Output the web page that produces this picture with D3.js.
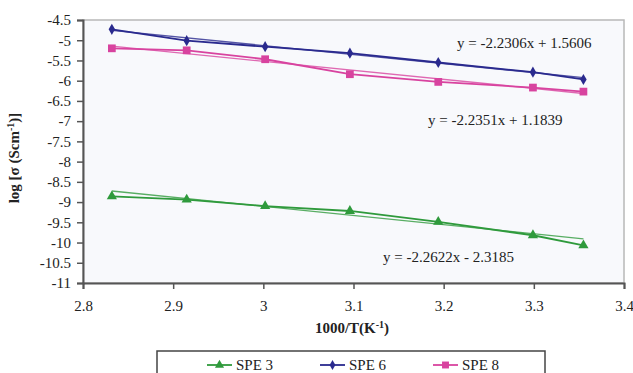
<!DOCTYPE html>
<html>
<head>
<meta charset="utf-8">
<script src="https://cdn.jsdelivr.net/npm/d3@7"></script>
<style>
  body { margin: 0; background: #fff; }
  text { font-family: "Liberation Serif", "Times New Roman", serif; fill: #222; }
</style>
</head>
<body>
<div id="container"></div>
<script>
// 1000/T values (K^-1)
const invTemp = [2.832, 2.915, 3.002, 3.096, 3.194, 3.299, 3.355];

// log conductivity per sample
const spe3 = [-8.86, -8.94, -9.10, -9.22, -9.49, -9.82, -10.07];
const spe6 = [-4.73, -5.01, -5.16, -5.32, -5.55, -5.79, -5.97];
const spe8 = [-5.20, -5.25, -5.47, -5.84, -6.03, -6.17, -6.27];

// linear fit coefficients [slope, intercept]
const fit3 = [-2.2622, -2.3185];
const fit6 = [-2.2306, 1.5606];
const fit8 = [-2.2351, 1.1839];

const seriesNames = ["SPE 3", "SPE 6", "SPE 8"];
const eqLabels = ["y = -2.2622x - 2.3185", "y = -2.2306x + 1.5606", "y = -2.2351x + 1.1839"];

const xTicks = [2.8, 2.9, 3, 3.1, 3.2, 3.3, 3.4];
const yTicks = [-4.5, -5, -5.5, -6, -6.5, -7, -7.5, -8, -8.5, -9, -9.5, -10, -10.5, -11];

const w = 633, h = 373;
const padL = 83, padR = 624, padT = 20, padB = 283;

const svg = d3.select("#container").append("svg")
  .attr("width", w).attr("height", h);

const x = d3.scaleLinear().domain([2.8, 3.4]).range([padL, padR]);
const y = d3.scaleLinear().domain([-11, -4.5]).range([padB, padT]);

// plot area
svg.append("rect")
  .attr("x", padL).attr("y", padT)
  .attr("width", padR - padL).attr("height", padB - padT)
  .attr("fill", "#f8f9fc")
  .attr("stroke", "#b8b8b8").attr("stroke-width", 1.5);

const xAxis = d3.axisBottom(x).tickValues(xTicks).tickSize(6).tickFormat(d3.format("~g"));
const yAxis = d3.axisLeft(y).tickValues(yTicks).tickSize(6).tickFormat(d => String(d));

const gx = svg.append("g").attr("transform", `translate(0,${padB})`).call(xAxis);
const gy = svg.append("g").attr("transform", `translate(${padL},0)`).call(yAxis);
[gx, gy].forEach(g => {
  g.select(".domain").attr("stroke", "#555").attr("stroke-width", 2);
  g.selectAll(".tick line").attr("stroke", "#555").attr("stroke-width", 1.5);
  g.selectAll(".tick text").style("font-size", "15px").attr("fill", "#222");
});
gx.selectAll(".tick text").attr("dy", "1.25em");
gy.selectAll(".tick text").attr("x", -12);

const series = [
  { name: seriesNames[0], vals: spe3, fit: fit3, color: "#2f9a3c", shape: d3.symbolTriangle, size: 45, eq: eqLabels[0], ex: 383, ey: 262 },
  { name: seriesNames[1], vals: spe6, fit: fit6, color: "#2a2a8e", shape: d3.symbolDiamond, size: 36, eq: eqLabels[1], ex: 457, ey: 48 },
  { name: seriesNames[2], vals: spe8, fit: fit8, color: "#d8439f", shape: d3.symbolSquare, size: 60, eq: eqLabels[2], ex: 428, ey: 125 }
];

const line = d3.line().x(d => x(d[0])).y(d => y(d[1]));

series.forEach(s => {
  const pts = invTemp.map((t, i) => [t, s.vals[i]]);
  const x0 = invTemp[0], x1 = invTemp[invTemp.length - 1];
  const trend = [[x0, s.fit[0] * x0 + s.fit[1]], [x1, s.fit[0] * x1 + s.fit[1]]];

  svg.append("path").datum(trend)
    .attr("d", line).attr("fill", "none")
    .attr("stroke", s.color).attr("stroke-width", 1.4).attr("opacity", 0.8);

  svg.append("path").datum(pts)
    .attr("d", line).attr("fill", "none")
    .attr("stroke", s.color).attr("stroke-width", 1.8);

  svg.selectAll(null).data(pts).enter().append("path")
    .attr("d", d3.symbol().type(s.shape).size(s.size))
    .attr("transform", d => `translate(${x(d[0])},${y(d[1])})`)
    .attr("fill", s.color);

  svg.append("text")
    .attr("x", s.ex).attr("y", s.ey)
    .style("font-size", "15px")
    .text(s.eq);
});

// axis titles
svg.append("text")
  .attr("x", 352).attr("y", 333)
  .attr("text-anchor", "middle")
  .style("font-size", "15px").style("font-weight", "bold")
  .html('1000/T(K<tspan dy="-5" style="font-size:10px">-1</tspan><tspan dy="5">)</tspan>');

svg.append("text")
  .attr("transform", "translate(19,158) rotate(-90)")
  .attr("text-anchor", "middle")
  .style("font-size", "15px").style("font-weight", "bold")
  .html('log [σ (Scm<tspan dy="-5" style="font-size:10px">-1</tspan><tspan dy="5">)]</tspan>');

// legend
svg.append("rect")
  .attr("x", 157).attr("y", 351)
  .attr("width", 388).attr("height", 40)
  .attr("fill", "#fff").attr("stroke", "#444").attr("stroke-width", 1.5);

const legX = [207, 320, 433];
const legend = svg.selectAll(".leg").data(series).enter().append("g")
  .attr("transform", (d, i) => `translate(${legX[i]},365)`);
legend.append("line")
  .attr("x1", 0).attr("x2", 25)
  .attr("stroke", d => d.color).attr("stroke-width", 1.8);
legend.append("path")
  .attr("d", d => d3.symbol().type(d.shape).size(d.size * 0.8)())
  .attr("transform", "translate(12.5,0)")
  .attr("fill", d => d.color);
legend.append("text")
  .attr("x", 29).attr("y", 5)
  .style("font-size", "15px")
  .text(d => d.name);
</script>
</body>
</html>
